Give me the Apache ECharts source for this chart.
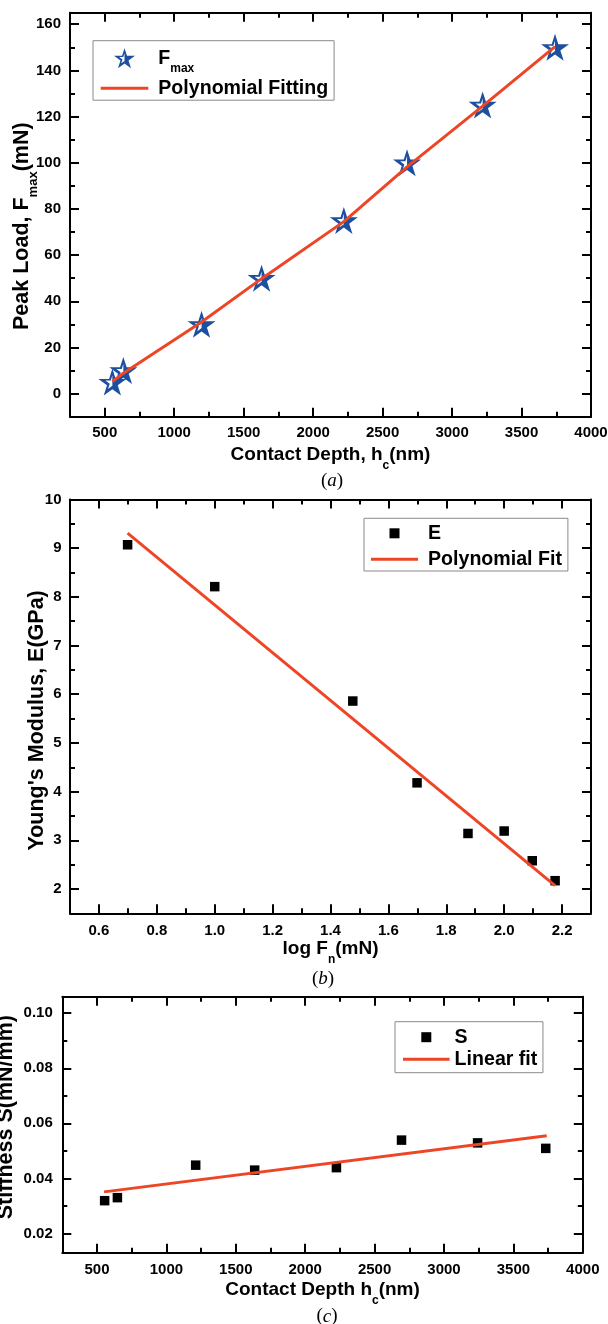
<!DOCTYPE html>
<html>
<head>
<meta charset="utf-8">
<script src="https://cdn.jsdelivr.net/npm/echarts@6/dist/echarts.min.js"></script>
<style>
  html, body { margin: 0; padding: 0; background: #fff; }
  #chart { width: 608px; height: 1324px; }
</style>
</head>
<body>
<div id="chart"></div>
<script>
// (a) peak load against contact depth
const contactDepth = [555, 634, 1197, 1629, 2221, 2676, 3220, 3741];
const peakLoad = [5, 10, 30, 50, 75, 100, 125, 150];
const peakLoadFit = [5.2, 8.8, 31.0, 49.8, 74.5, 98.2, 124.5, 150.3];

// (b) Young's modulus against log of normal load
const logLoad = [0.699, 1.000, 1.477, 1.699, 1.875, 2.000, 2.097, 2.176];
const youngsModulus = [9.07, 8.21, 5.86, 4.18, 3.14, 3.19, 2.58, 2.17];
const modulusFitX = [0.699, 2.176];
const modulusFitY = [9.31, 2.07];

// (c) stiffness against contact depth
const stiffnessDepth = [555, 647, 1211, 1636, 2225, 2694, 3242, 3733];
const stiffness = [0.0319, 0.0330, 0.0448, 0.0430, 0.0439, 0.0539, 0.0529, 0.0509];
const stiffnessFitX = [551, 3740];
const stiffnessFitY = [0.0351, 0.0555];

// tick positions (major carry labels, minor are short marks)
const depthTicks = [500, 1000, 1500, 2000, 2500, 3000, 3500, 4000];
const depthMinor = [750, 1250, 1750, 2250, 2750, 3250, 3750];
const loadTicks = [0, 20, 40, 60, 80, 100, 120, 140, 160];
const loadMinor = [10, 30, 50, 70, 90, 110, 130, 150];
const logTicks = [0.6, 0.8, 1.0, 1.2, 1.4, 1.6, 1.8, 2.0, 2.2];
const logMinor = [0.7, 0.9, 1.1, 1.3, 1.5, 1.7, 1.9, 2.1];
const modulusTicks = [2, 3, 4, 5, 6, 7, 8, 9, 10];
const modulusMinor = [2.5, 3.5, 4.5, 5.5, 6.5, 7.5, 8.5, 9.5];
const stiffTicks = [0.02, 0.04, 0.06, 0.08, 0.10];
const stiffMinor = [0.03, 0.05, 0.07, 0.09];

const FONT = '"Liberation Sans", Arial, sans-serif';
const BLUE = '#1c4f9f';
const RED = '#ee4526';
const INK = '#000';

// star outline with its right half filled
const HALF_STAR = 'path://M50,0L61.23,34.55L97.55,34.55L68.17,55.9L79.39,90.45L50,69.1L20.61,90.45L31.83,55.9L2.45,34.55L38.77,34.55Z' +
  'M50,23L44.38,40.28L26.22,40.28L40.92,50.95L35.30,68.23L50,57.55L64.70,68.23L59.08,50.95L73.78,40.28L55.62,40.28Z' +
  'M50,0L61.23,34.55L97.55,34.55L68.17,55.9L79.39,90.45L50,69.1Z';
const LINE_ICON = 'path://M0,0H48V3H0Z';
const SQUARE_ICON = 'path://M0,0H10V10H0Z';

const pair = (xs, ys) => xs.map((x, i) => [x, ys[i]]);

const xNameRich = {
  m: { fontFamily: FONT, fontWeight: 'bold', fontSize: 19, lineHeight: 34, color: INK },
  s: { fontFamily: FONT, fontWeight: 'bold', fontSize: 12, lineHeight: 12, verticalAlign: 'bottom', color: INK }
};
const yNameRich = {
  m: { fontFamily: FONT, fontWeight: 'bold', fontSize: 21.5, lineHeight: 36, color: INK },
  s: { fontFamily: FONT, fontWeight: 'bold', fontSize: 13, lineHeight: 12, verticalAlign: 'bottom', color: INK }
};

const labelStyle = (fmt, margin) => ({
  fontFamily: FONT, fontWeight: 'bold', fontSize: 15, color: INK, margin, formatter: fmt
});
const lineStyle = { color: INK, width: 2 };

function axisPair(dim, mainGrid, min, max, major, minor, fmt, margin, name, nameGap, namePad) {
  const sides = dim === 'x' ? ['bottom', 'top'] : ['left', 'right'];
  const base = { type: 'value', min, max, splitLine: { show: false } };
  const majorTick = { inside: true, length: 9, lineStyle, customValues: major };
  const minorTick = { inside: true, length: 5, lineStyle, customValues: minor };
  const first = Object.assign({}, base, {
    gridIndex: mainGrid, position: sides[0],
    axisLine: { show: true, onZero: false, lineStyle },
    axisTick: majorTick,
    axisLabel: Object.assign({ customValues: major }, labelStyle(fmt, margin)),
    name, nameLocation: 'middle', nameGap, nameMoveOverlap: false,
    nameRotate: dim === 'x' ? 0 : 90,
    nameTextStyle: { rich: dim === 'x' ? xNameRich : yNameRich, padding: namePad || 0 }
  });
  const second = Object.assign({}, base, {
    gridIndex: mainGrid, position: sides[1],
    axisLine: { show: true, onZero: false, lineStyle },
    axisTick: majorTick, axisLabel: { show: false }
  });
  const third = Object.assign({}, base, {
    gridIndex: mainGrid + 1, position: sides[0],
    axisLine: { show: false, onZero: false }, axisTick: minorTick, axisLabel: { show: false }
  });
  const fourth = Object.assign({}, base, {
    gridIndex: mainGrid + 1, position: sides[1],
    axisLine: { show: false, onZero: false }, axisTick: minorTick, axisLabel: { show: false }
  });
  return [first, second, third, fourth];
}

const fmtInt = v => String(v);
const fmt1 = v => v.toFixed(1);
const fmt2 = v => v.toFixed(2);

const gridA = { left: 70, top: 12.7, width: 521, height: 404 };
const gridB = { left: 70, top: 499.5, width: 521, height: 413.8 };
const gridC = { left: 62.3, top: 996.7, width: 520.5, height: 256 };
const grids = [gridA, gridA, gridB, gridB, gridC, gridC].map(g =>
  Object.assign({ outerBoundsMode: 'none', containLabel: false }, g));

const xAxes = [].concat(
  axisPair('x', 0, 250, 4000, depthTicks, depthMinor, fmtInt, 8.5,
    '{m|Contact Depth, h}{s|c}{m|(nm)}', 21),
  axisPair('x', 2, 0.5, 2.3, logTicks, logMinor, fmt1, 10,
    '{m|log F}{s|n}{m|(mN)}', 18.7),
  axisPair('x', 4, 250, 4000, depthTicks, depthMinor, fmtInt, 10,
    '{m|Contact Depth h}{s|c}{m|(nm)}', 20.3)
);
const yAxes = [].concat(
  axisPair('y', 0, -10, 165, loadTicks, loadMinor, fmtInt, 9,
    '{m|Peak Load, F}{s|max}{m|(mN)}', 30, [0, 23, 0, 0]),
  axisPair('y', 2, 1.5, 10, modulusTicks, modulusMinor, fmtInt, 8.5,
    "{m|Young's Modulus, E(GPa)}", 15, [0, 28, 0, 0]),
  axisPair('y', 4, 0.013, 0.106, stiffTicks, stiffMinor, fmt2, 9.5,
    '{m|Stiffness S(mN/mm)}', 38, [0, 0, 0, 15])
);

const LEGEND_SIZE = 19.6;
const legendRich = (gap, lh) => ({
  m: { fontFamily: FONT, fontWeight: 'bold', fontSize: LEGEND_SIZE, lineHeight: 32, color: INK, padding: [0, 0, 0, gap] },
  s: { fontFamily: FONT, fontWeight: 'bold', fontSize: 12, lineHeight: 12, verticalAlign: 'bottom', color: INK },
  n: { fontFamily: FONT, fontWeight: 'bold', fontSize: LEGEND_SIZE, lineHeight: lh, color: INK, padding: [0, 0, 0, gap] }
});
const legendBase = {
  orient: 'vertical', selectedMode: false,
  borderColor: '#8a8a8a', borderWidth: 1, backgroundColor: '#fff'
};

const legends = [
  Object.assign({}, legendBase, {
    left: 93, top: 40.7, padding: [7.5, 6, 2, 7.7],
    itemWidth: 47.6, itemHeight: 20, itemGap: 4,
    data: [
      { name: 'Fmax', icon: HALF_STAR, itemStyle: { color: BLUE, borderWidth: 0 } },
      { name: 'Polynomial Fitting', icon: LINE_ICON, itemStyle: { color: RED, borderWidth: 0 } }
    ],
    formatter: n => n === 'Fmax' ? '{m|F}{s|max}' : '{n|' + n + '}',
    textStyle: { rich: legendRich(5, 22) }
  }),
  Object.assign({}, legendBase, {
    left: 364, top: 518.3, padding: [5, 6, 1.7, 7],
    itemWidth: 47, itemHeight: 10, itemGap: 6,
    data: [
      { name: 'E', icon: SQUARE_ICON, itemStyle: { color: INK, borderWidth: 0 } },
      { name: 'Polynomial Fit', icon: LINE_ICON, itemStyle: { color: RED, borderWidth: 0 } }
    ],
    formatter: n => '{n|' + n + '}',
    textStyle: { rich: legendRich(5, 22) }
  }),
  Object.assign({}, legendBase, {
    left: 395, top: 1021.7, padding: [5.5, 5.6, 3.4, 8],
    itemWidth: 46.6, itemHeight: 10, itemGap: 2.1,
    data: [
      { name: 'S', icon: SQUARE_ICON, itemStyle: { color: INK, borderWidth: 0 } },
      { name: 'Linear fit', icon: LINE_ICON, itemStyle: { color: RED, borderWidth: 0 } }
    ],
    formatter: n => '{n|' + n + '}',
    textStyle: { rich: legendRich(0, 20) }
  })
];

const fitLine = (name, axis, data) => ({
  name, type: 'line', xAxisIndex: axis, yAxisIndex: axis, data,
  showSymbol: false, symbol: 'none', z: 4, silent: true,
  color: RED, lineStyle: { color: RED, width: 3 }
});

const series = [
  {
    name: 'Fmax', type: 'scatter', xAxisIndex: 0, yAxisIndex: 0,
    data: pair(contactDepth, peakLoad),
    symbol: HALF_STAR, symbolSize: [28, 27], z: 3,
    itemStyle: { color: BLUE, opacity: 1 }
  },
  fitLine('Polynomial Fitting', 0, pair(contactDepth, peakLoadFit)),
  {
    name: 'E', type: 'scatter', xAxisIndex: 4, yAxisIndex: 4,
    data: pair(logLoad, youngsModulus),
    symbol: 'rect', symbolSize: 9.5, z: 3,
    itemStyle: { color: INK, opacity: 1 }
  },
  fitLine('Polynomial Fit', 4, pair(modulusFitX, modulusFitY)),
  {
    name: 'S', type: 'scatter', xAxisIndex: 8, yAxisIndex: 8,
    data: pair(stiffnessDepth, stiffness),
    symbol: 'rect', symbolSize: 9.5, z: 3,
    itemStyle: { color: INK, opacity: 1 }
  },
  fitLine('Linear fit', 8, pair(stiffnessFitX, stiffnessFitY))
];

const captions = [['a', 332, 481], ['b', 323, 979], ['c', 327, 1316.5]];
const graphic = captions.map(([t, x, y]) => ({
  type: 'text', x, y, z: 10,
  style: {
    text: '({i|' + t + '})',
    font: '19px "Liberation Serif", "Times New Roman", serif',
    fill: INK, align: 'center', verticalAlign: 'middle',
    textAlign: 'center', textVerticalAlign: 'middle',
    rich: { i: { fontFamily: '"Liberation Serif", serif', fontStyle: 'italic', fontSize: 19, fill: INK } }
  }
}));

const chart = echarts.init(document.getElementById('chart'), null, { renderer: 'canvas' });
chart.setOption({
  animation: false,
  backgroundColor: '#fff',
  grid: grids,
  xAxis: xAxes,
  yAxis: yAxes,
  legend: legends,
  series,
  graphic
});
</script>
</body>
</html>
